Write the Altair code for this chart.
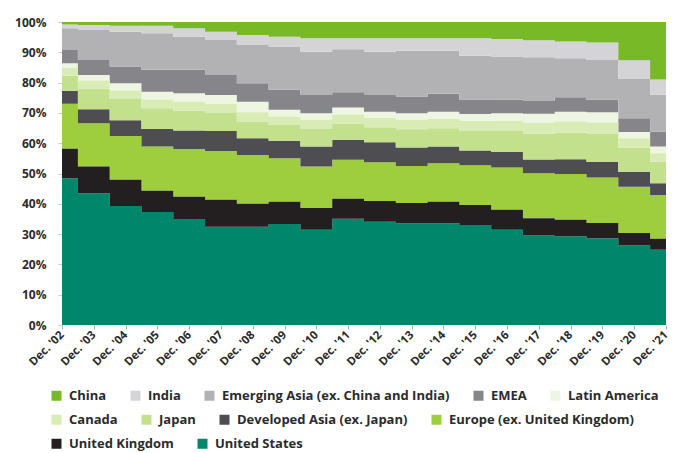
import altair as alt
import pandas as pd

# Share of global equity market capitalisation by region, December of each year
years = list(range(2002, 2022))

united_states = [48.4, 43.5, 39.3, 37.3, 35.0, 32.4, 32.4, 33.3, 31.4, 35.1,
                 34.1, 33.6, 33.6, 33.0, 31.4, 29.5, 29.3, 28.6, 26.2, 24.8]
united_kingdom = [9.8, 8.8, 8.6, 7.0, 7.3, 8.9, 7.6, 7.4, 7.2, 6.6,
                  6.8, 6.7, 7.1, 6.6, 6.6, 5.7, 5.4, 5.1, 4.2, 3.7]
europe_ex_uk = [14.8, 14.3, 14.5, 14.6, 15.8, 16.1, 16.1, 14.3, 13.7, 12.8,
                12.8, 12.2, 12.7, 13.1, 14.0, 14.9, 15.1, 15.0, 15.2, 14.4]
developed_asia = [4.3, 4.6, 5.2, 5.8, 6.1, 6.6, 5.5, 5.8, 6.6, 6.6,
                  6.6, 6.1, 5.5, 4.9, 5.2, 4.5, 4.9, 5.1, 5.0, 3.9]
japan = [5.0, 6.8, 7.0, 6.8, 6.5, 6.0, 5.4, 5.2, 5.8, 5.4,
         5.0, 6.0, 6.0, 6.4, 6.8, 8.5, 8.8, 9.2, 8.0, 7.1]
canada = [2.5, 2.7, 2.8, 2.9, 3.0, 3.0, 3.2, 2.8, 3.0, 3.0,
          3.0, 3.1, 3.2, 3.3, 3.4, 3.6, 3.7, 3.8, 3.0, 2.8]
latin_america = [1.6, 1.8, 2.4, 2.6, 2.8, 2.9, 3.5, 2.2, 2.2, 2.3,
                 2.1, 2.2, 2.3, 2.3, 2.5, 3.0, 3.2, 3.4, 2.1, 2.2]
emea = [4.4, 5.0, 5.5, 7.2, 7.7, 6.6, 6.1, 6.6, 6.0, 5.0,
        5.5, 5.5, 5.9, 4.8, 4.4, 4.2, 4.8, 4.1, 4.5, 4.9]
emerging_asia = [7.1, 9.9, 11.5, 12.1, 10.9, 11.6, 12.6, 14.3, 14.3, 14.2,
                 14.3, 15.1, 14.2, 14.5, 14.3, 14.5, 12.8, 13.2, 13.0, 12.2]
india = [1.3, 1.6, 2.0, 2.5, 2.8, 2.7, 3.3, 3.2, 4.4, 3.6,
         4.4, 4.1, 4.1, 5.7, 5.8, 5.6, 5.6, 5.7, 6.2, 5.0]
china = [0.8, 1.0, 1.2, 1.2, 2.1, 3.2, 4.3, 4.9, 5.4, 5.4,
         5.4, 5.4, 5.4, 5.4, 5.6, 6.0, 6.4, 6.8, 12.6, 19.0]

# Stacked from the bottom up
regions = [
    ("United States", united_states, "#00866a"),
    ("United Kingdom", united_kingdom, "#231f20"),
    ("Europe (ex. United Kingdom)", europe_ex_uk, "#9ecd3d"),
    ("Developed Asia (ex. Japan)", developed_asia, "#4d4d52"),
    ("Japan", japan, "#c3e08d"),
    ("Canada", canada, "#d9ecb6"),
    ("Latin America", latin_america, "#eef5e2"),
    ("EMEA", emea, "#85858a"),
    ("Emerging Asia (ex. China and India)", emerging_asia, "#b2b2b4"),
    ("India", india, "#d4d4d6"),
    ("China", china, "#78b928"),
]
colour_of = {name: col for name, _, col in regions}

rows = []
for rank, (name, values, _) in enumerate(regions):
    for yr, v in zip(years, values):
        rows.append({"year": yr, "region": name, "value": v, "rank": rank})
df = pd.DataFrame(rows)

# Legend rows, top to bottom
legend_rows = [
    ["China", "India", "Emerging Asia (ex. China and India)", "EMEA", "Latin America"],
    ["Canada", "Japan", "Developed Asia (ex. Japan)", "Europe (ex. United Kingdom)"],
    ["United Kingdom", "United States"],
]

FONT = "Open Sans"
TEXT = "#2b2b2b"

x_enc = alt.X(
    "year:Q",
    scale=alt.Scale(domain=[2002, 2021], nice=False, zero=False),
    axis=alt.Axis(
        values=years,
        labelExpr="'Dec. \\'' + slice(toString(datum.value), 2)",
        labelAngle=-45,
        labelAlign="right",
        labelBaseline="middle",
        labelOverlap=False,
        labelFlush=False,
        labelFont=FONT,
        labelFontSize=11.5,
        labelFontWeight="bold",
        labelColor=TEXT,
        labelPadding=4,
        tickSize=4,
        tickColor="#aaaaaa",
        domain=False,
        grid=False,
        title=None,
    ),
)
y_enc = alt.Y(
    "y0:Q",
    scale=alt.Scale(domain=[0, 1], nice=False),
    axis=alt.Axis(
        format=".0%",
        values=[i / 10 for i in range(11)],
        labelFont=FONT,
        labelFontSize=12,
        labelFontWeight="bold",
        labelColor=TEXT,
        labelPadding=12,
        tickSize=4,
        tickColor="#cccccc",
        domain=False,
        grid=False,
        title=None,
    ),
)

layers = []
for i, group in enumerate(legend_rows):
    layer = (
        alt.Chart(df)
        .transform_stack(
            stack="value",
            groupby=["year"],
            as_=["y0", "y1"],
            offset="normalize",
            sort=[alt.SortField("rank", order="ascending")],
        )
        .transform_filter(alt.FieldOneOfPredicate(field="region", oneOf=group))
        .mark_area(interpolate="step")
        .encode(
            x=x_enc,
            y=y_enc,
            y2="y1:Q",
            color=alt.Color(
                "region:N",
                scale=alt.Scale(domain=group, range=[colour_of[g] for g in group]),
                legend=alt.Legend(
                    orient="none",
                    legendX=-12,
                    legendY=367 + 24 * i,
                    direction="horizontal",
                    title=None,
                    symbolType="square",
                    symbolSize=100,
                    symbolStrokeWidth=0,
                    symbolOpacity=1,
                    labelFont=FONT,
                    labelFontSize=13,
                    labelFontWeight="bold",
                    labelColor=TEXT,
                    labelOffset=6,
                    columnPadding=22,
                    labelLimit=400,
                ),
            ),
        )
    )
    layers.append(layer)

chart = (
    alt.layer(*layers)
    .resolve_scale(color="independent")
    .properties(
        width=604,
        height=303,
        autosize=alt.AutoSizeParams(type="none"),
        padding={"left": 62, "top": 22, "right": 7, "bottom": 128},
        background="white",
    )
    .configure_view(stroke=None)
)

chart.save("out.html", embed_options={"renderer": "svg", "actions": False})
